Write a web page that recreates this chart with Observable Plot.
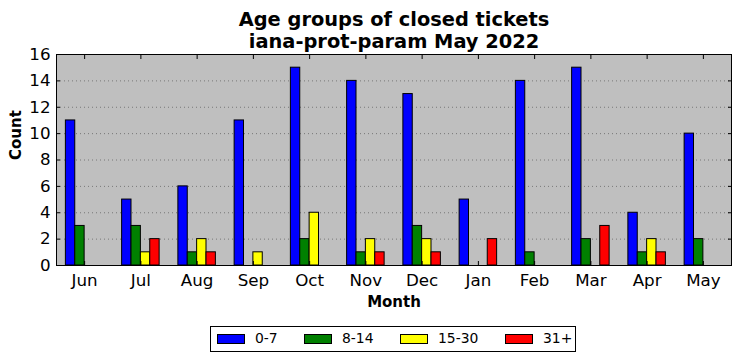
<!DOCTYPE html>
<html>
<head>
<meta charset="utf-8">
<script src="https://cdn.jsdelivr.net/npm/d3@7"></script>
<script src="https://cdn.jsdelivr.net/npm/@observablehq/plot@0.6"></script>
<style>
  body { margin: 0; background: #fff; font-family: "DejaVu Sans", sans-serif; }
  #wrap { position: relative; width: 741px; height: 361px; }
  #chart svg { display: block; }
  #legend { position: absolute; left: 210px; top: 326px; width: 364px; height: 24px; border: 1px solid #000; font-size: 13.9px; }
  .sw { position: absolute; top: 7px; width: 26px; height: 8px; border: 1px solid #000; }
  .lab { position: absolute; top: 3px; line-height: 16px; }
</style>
</head>
<body>
<div id="wrap">
  <div id="chart"></div>
  <div id="legend"></div>
</div>
<script>
const months = ["Jun","Jul","Aug","Sep","Oct","Nov","Dec","Jan","Feb","Mar","Apr","May"];
const series = ["0-7","8-14","15-30","31+"];
const colors = ["#0000ff","#008000","#ffff00","#ff0000"];
const v0_7   = [11, 5, 6, 11, 15, 14, 13, 5, 14, 15, 4, 10];
const v8_14  = [3, 3, 1, 0, 2, 1, 3, 0, 1, 2, 1, 2];
const v15_30 = [0, 1, 2, 1, 4, 2, 2, 0, 0, 0, 2, 0];
const v31    = [0, 2, 1, 0, 0, 1, 1, 2, 0, 3, 1, 0];
const yTicks = [0, 2, 4, 6, 8, 10, 12, 14, 16];
const gridTicks = [2, 4, 6, 8, 10, 12, 14];

const allValues = [v0_7, v8_14, v15_30, v31];
const rows = [];
allValues.forEach((vals, k) => {
  vals.forEach((v, i) => {
    rows.push({i, k, series: series[k], month: months[i], value: v,
      x1: i - 1/3 + k/6, x2: i - 1/3 + (k + 1)/6});
  });
});
const idx = months.map((_, i) => i);

const chart = Plot.plot({
  width: 741,
  height: 320,
  marginTop: 54,
  marginBottom: 55,
  marginLeft: 56,
  marginRight: 10,
  style: {fontFamily: "DejaVu Sans, sans-serif", background: "transparent"},
  x: {domain: [-0.5, 11.5]},
  y: {domain: [0, 16]},
  marks: [
    Plot.frame({fill: "#bfbfbf", stroke: null}),
    Plot.ruleY(gridTicks, {stroke: "#666", strokeWidth: 0.8, strokeDasharray: "1,3"}),
    Plot.rectY(rows, {x1: "x1", x2: "x2", y1: 0, y2: "value", fill: d => colors[d.k], stroke: "#000", strokeWidth: 1}),
    Plot.frame({stroke: "#000", strokeWidth: 1}),
    Plot.axisX({ticks: idx, tickFormat: i => months[i], tickSize: -4, tickPadding: 13, fontSize: 16.7, fill: "#000", label: null}),
    Plot.axisX({anchor: "top", ticks: idx, tickFormat: () => "", tickSize: -4, label: null}),
    Plot.axisY({ticks: yTicks, tickSize: -4, tickPadding: 10, fontSize: 16.7, fill: "#000", label: null}),
    Plot.axisY({anchor: "right", ticks: yTicks, tickFormat: () => "", tickSize: -4, label: null}),
    Plot.text(["Month"], {frameAnchor: "bottom", lineAnchor: "middle", dy: 37, fontSize: 15, fontWeight: "bold", fill: "#000"}),
    Plot.text(["Count"], {frameAnchor: "left", lineAnchor: "middle", dx: -40, rotate: -90, fontSize: 15, fontWeight: "bold", fill: "#000"}),
    Plot.text(["Age groups of closed tickets"], {frameAnchor: "top", lineAnchor: "middle", dy: -35, fontSize: 19.4, fontWeight: "bold", fill: "#000"}),
    Plot.text(["iana-prot-param May 2022"], {frameAnchor: "top", lineAnchor: "middle", dy: -13, fontSize: 19.4, fontWeight: "bold", fill: "#000"})
  ]
});
document.getElementById("chart").appendChild(chart);

const legend = document.getElementById("legend");
const swLeft = [6, 93, 189, 294];
series.forEach((s, k) => {
  const sw = document.createElement("div");
  sw.className = "sw";
  sw.style.left = swLeft[k] + "px";
  sw.style.background = colors[k];
  const lab = document.createElement("span");
  lab.className = "lab";
  lab.style.left = (swLeft[k] + 38) + "px";
  lab.textContent = s;
  legend.appendChild(sw);
  legend.appendChild(lab);
});
</script>
</body>
</html>
